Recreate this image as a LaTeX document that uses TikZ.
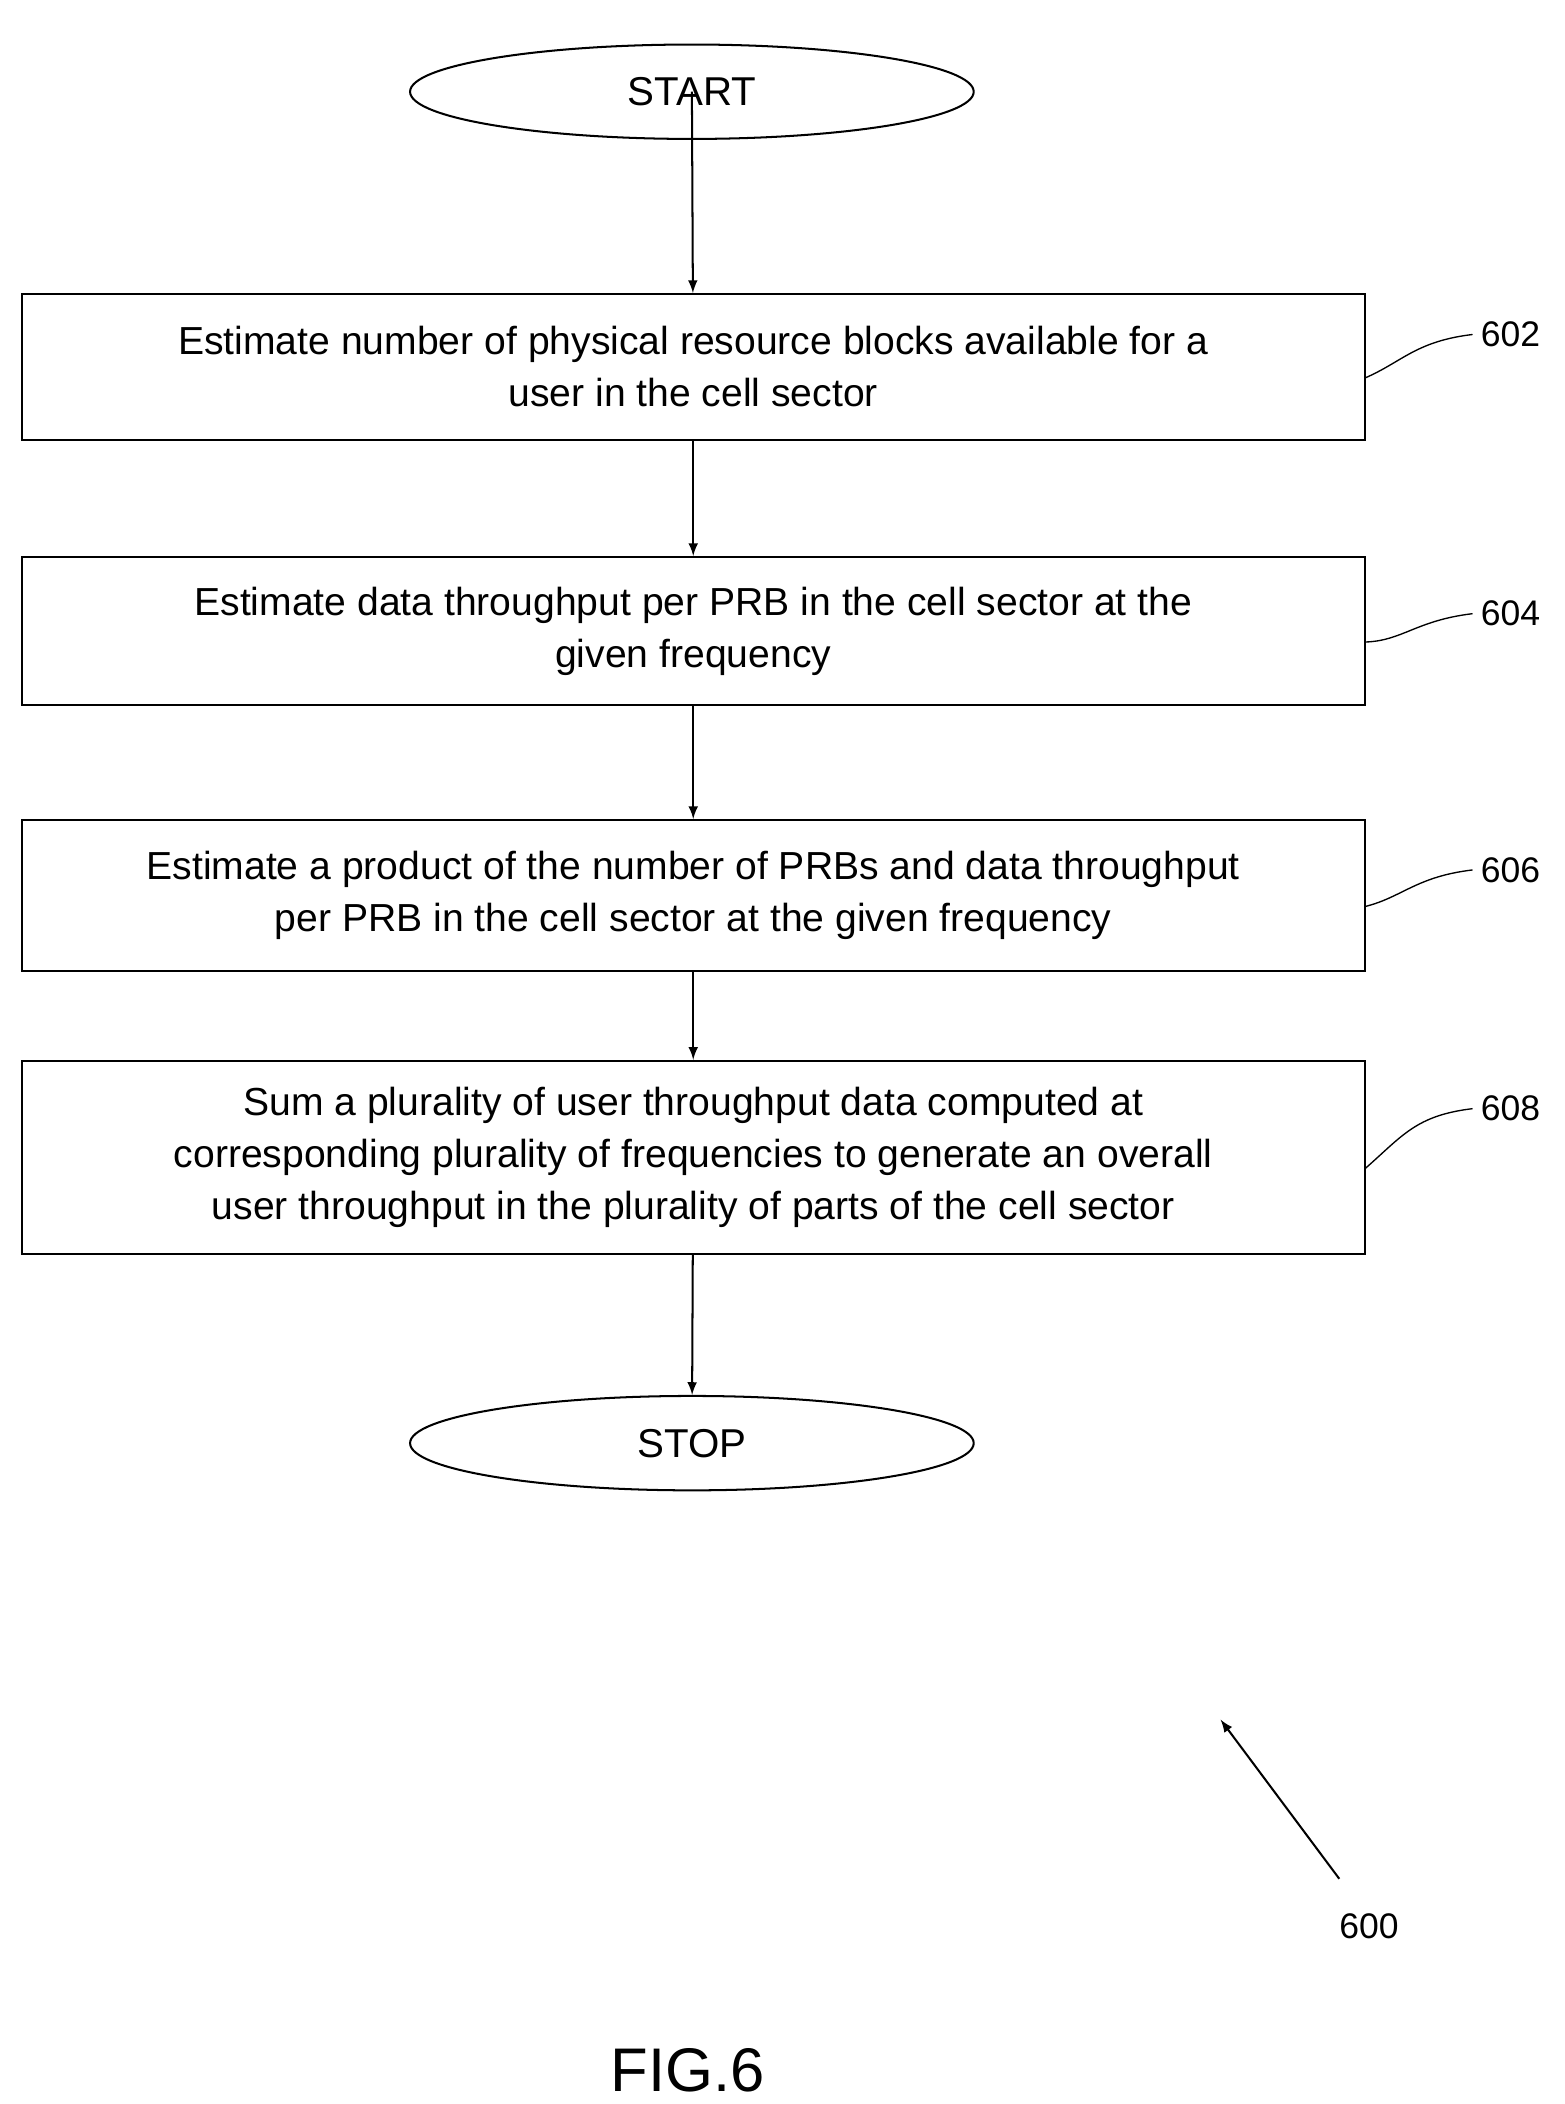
\documentclass[tikz,border=0pt]{standalone}
\usepackage{fontspec}
\setmainfont{Liberation Sans}
\usetikzlibrary{shapes.geometric}
\begin{document}
\begin{tikzpicture}
[x=0.02cm,y=-0.02cm, lineDecorate/.style={-latex,line width=0.3mm},
 stepDecorate/.style={draw,line width=0.3mm,minimum width=19.92cm,align=center,font=\fontsize{16.5}{22}\selectfont},
 termDecorate/.style={draw,ellipse,line width=0.3mm,minimum width=8.36cm,minimum height=1.4cm,font=\fontsize{17}{20}\selectfont},
 refDecorate/.style={font=\fontsize{15}{18}\selectfont}]

 \useasboundingbox (0,0) rectangle (1160,1560);

 \node (start) at (513,68) [termDecorate] {START};
 \node (s602) at (514,272) [stepDecorate, minimum height=2.16cm] {Estimate number of physical resource blocks available for a\\user in the cell sector};
 \node (s604) at (514,468) [stepDecorate, minimum height=2.2cm] {Estimate data throughput per PRB in the cell sector at the\\given frequency};
 \node (s606) at (514,664) [stepDecorate, minimum height=2.24cm] {Estimate a product of the number of PRBs and data throughput\\per PRB in the cell sector at the given frequency};
 \node (s608) at (514,858) [stepDecorate, minimum height=2.86cm] {Sum a plurality of user throughput data computed at\\corresponding plurality of frequencies to generate an overall\\user throughput in the plurality of parts of the cell sector};
 \node (stop) at (513,1070) [termDecorate] {STOP};

 \foreach \n/\y in {602/248,604/455,606/645,608/822}
 {
   \node (r\n) at (1120,\y) [refDecorate] {\n};
   \draw[line width=0.2mm] (s\n.east) ++(0,8) .. controls (1040,\y+20) and (1050,\y+5) .. (r\n.west);
 }

 \node (r600) at (1015,1428) [refDecorate] {600};
 \coordinate (tip600) at (905,1275);
 \coordinate (tail600) at (993,1393);
 \draw[lineDecorate] (tail600) -- (tip600);

 \node (fig) at (510,1535) {\fontsize{26}{30}\selectfont FIG.6};

\path
 (start.center) edge[lineDecorate] (s602)
 (s602) edge[lineDecorate] (s604)
 (s604) edge[lineDecorate] (s606)
 (s606) edge[lineDecorate] (s608)
 (s608) edge[lineDecorate] (stop);
\end{tikzpicture}
\end{document}
